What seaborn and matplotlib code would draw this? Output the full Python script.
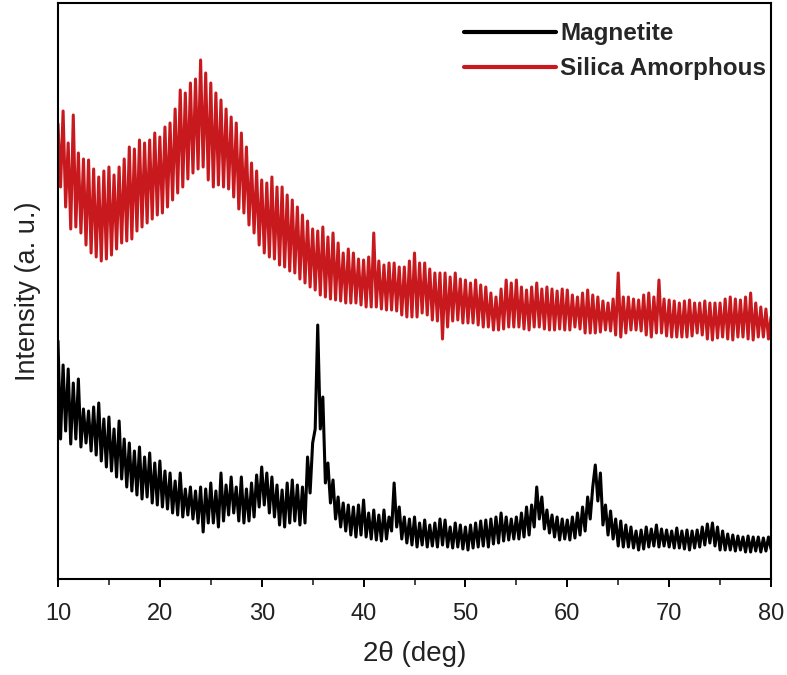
import numpy as np
import pandas as pd
import matplotlib
matplotlib.use("Agg")
import matplotlib.pyplot as plt
import seaborn as sns
from matplotlib.ticker import MultipleLocator

# 2-theta grid (deg), 0.25 deg steps from 10 to 80
two_theta = np.arange(10.0, 80.0001, 0.25)

# Magnetite intensity (a.u.)
magnetite = [
    238, 140, 214, 148, 210, 135, 196, 140, 200, 132, 170, 136, 168, 128, 172, 124, 176, 118, 160, 112,
    162, 108, 150, 102, 158, 100, 140, 92, 136, 88, 128, 84, 132, 80, 122, 82, 126, 76, 116, 74,
    118, 72, 108, 70, 106, 66, 98, 64, 106, 62, 90, 64, 92, 60, 88, 56, 92, 47, 90, 56,
    96, 56, 88, 52, 106, 58, 94, 64, 102, 66, 92, 58, 102, 56, 90, 58, 96, 62, 104, 72,
    112, 74, 106, 66, 102, 62, 94, 54, 89, 52, 96, 56, 99, 58, 94, 54, 92, 56, 122, 86,
    136, 150, 254, 150, 182, 96, 116, 76, 99, 60, 82, 52, 76, 48, 74, 44, 72, 42, 74, 44,
    79, 42, 66, 40, 69, 39, 64, 38, 69, 40, 62, 48, 96, 52, 72, 40, 62, 36, 60, 34,
    62, 32, 56, 34, 59, 32, 54, 33, 56, 32, 60, 34, 59, 32, 52, 31, 56, 32, 54, 30,
    52, 29, 54, 31, 56, 32, 58, 33, 59, 32, 60, 35, 62, 36, 66, 38, 62, 39, 60, 40,
    62, 40, 66, 42, 72, 44, 74, 52, 92, 60, 82, 50, 69, 46, 64, 42, 62, 39, 60, 40,
    59, 39, 62, 41, 66, 44, 72, 48, 82, 60, 92, 114, 78, 106, 54, 74, 44, 68, 40, 60,
    33, 58, 32, 54, 32, 52, 31, 48, 29, 49, 30, 52, 32, 50, 33, 54, 32, 50, 33, 49,
    32, 48, 31, 51, 31, 48, 30, 49, 29, 48, 31, 49, 32, 52, 34, 55, 36, 56, 33, 52,
    29, 48, 29, 45, 29, 44, 28, 43, 29, 42, 27, 43, 27, 42, 28, 42, 27, 41, 28, 42,
    30,
]

# Silica amorphous intensity (a.u.)
silica = [
    455, 392, 468, 372, 436, 350, 464, 352, 426, 346, 420, 334, 419, 326, 410, 322, 402, 318, 408, 320,
    412, 324, 404, 330, 412, 336, 420, 338, 432, 340, 430, 348, 439, 352, 436, 356, 439, 360, 446, 364,
    442, 366, 452, 372, 456, 379, 470, 386, 489, 392, 486, 400, 496, 406, 500, 410, 519, 412, 506, 399,
    496, 392, 486, 394, 479, 392, 470, 390, 462, 382, 456, 370, 446, 366, 432, 354, 416, 346, 408, 334,
    399, 326, 396, 322, 402, 320, 392, 314, 392, 312, 384, 308, 379, 306, 372, 300, 364, 296, 358, 292,
    350, 289, 348, 284, 352, 282, 342, 280, 346, 279, 336, 278, 326, 276, 330, 276, 326, 276, 320, 274,
    319, 272, 322, 272, 346, 272, 318, 270, 314, 269, 316, 269, 316, 268, 312, 264, 312, 262, 318, 262,
    326, 262, 316, 266, 316, 264, 310, 259, 306, 258, 306, 240, 306, 252, 302, 258, 306, 259, 300, 256,
    299, 256, 296, 256, 299, 254, 294, 252, 292, 252, 286, 249, 282, 249, 290, 250, 299, 252, 296, 252,
    299, 252, 292, 250, 289, 249, 292, 252, 296, 252, 290, 250, 292, 249, 290, 249, 288, 250, 290, 249,
    289, 249, 284, 252, 282, 250, 286, 246, 289, 246, 284, 246, 282, 247, 278, 249, 276, 248, 280, 244,
    306, 242, 282, 246, 282, 249, 280, 249, 279, 248, 284, 244, 286, 242, 282, 246, 299, 246, 280, 243,
    279, 242, 278, 242, 276, 242, 278, 242, 279, 243, 276, 246, 276, 244, 278, 240, 276, 239, 276, 241,
    276, 242, 280, 240, 282, 239, 280, 242, 279, 242, 282, 240, 286, 239, 276, 242, 272, 242, 270, 240,
    262,
]

series_names = ["Magnetite", "Silica Amorphous"]
colors = ["#000000", "#C81A1E"]

df = pd.concat([
    pd.DataFrame({"2theta": two_theta, "I": magnetite, "Sample": series_names[0]}),
    pd.DataFrame({"2theta": two_theta, "I": silica, "Sample": series_names[1]}),
], ignore_index=True)

sns.set_style("white")
plt.rcParams["font.family"] = ["Liberation Sans", "DejaVu Sans"]

fig = plt.figure(figsize=(7.87, 6.75), dpi=100)
ax = fig.add_axes([58 / 787, 1 - 579 / 675, (771 - 58) / 787, (579 - 3) / 675])

sns.lineplot(data=df, x="2theta", y="I", hue="Sample", hue_order=series_names,
             palette=colors, linewidth=2.2, sort=False, estimator=None,
             solid_joinstyle="round", ax=ax)

ax.set_xlim(10, 80)
ax.set_ylim(0, 576)
ax.xaxis.set_major_locator(MultipleLocator(10))
ax.xaxis.set_minor_locator(MultipleLocator(5))
ax.tick_params(axis="x", which="major", direction="out", length=6, width=1.4, pad=11,
               labelsize=17, colors="#000000", labelcolor="#222222", bottom=True, top=False)
ax.tick_params(axis="x", which="minor", direction="out", length=4, width=1.2, bottom=True, top=False)
ax.set_yticks([])
for sp in ax.spines.values():
    sp.set_visible(True)
    sp.set_color("black")
    sp.set_linewidth(1.5)

ax.set_xlabel("2\u03b8 (deg)", fontsize=20, color="#222222", labelpad=12)
ax.set_ylabel("Intensity (a. u.)", fontsize=19.5, color="#222222", labelpad=12)

handles, labels = ax.get_legend_handles_labels()
for h in handles:
    h.set_linewidth(3)
leg = ax.legend(handles, labels, loc="upper right", bbox_to_anchor=(1.0, 0.975),
                frameon=False, handlelength=3.8, handletextpad=0.17, labelspacing=0.5,
                prop={"weight": "bold", "size": 17.5}, borderaxespad=0.1, borderpad=0.1)

fig.savefig("out.png", dpi=100)
